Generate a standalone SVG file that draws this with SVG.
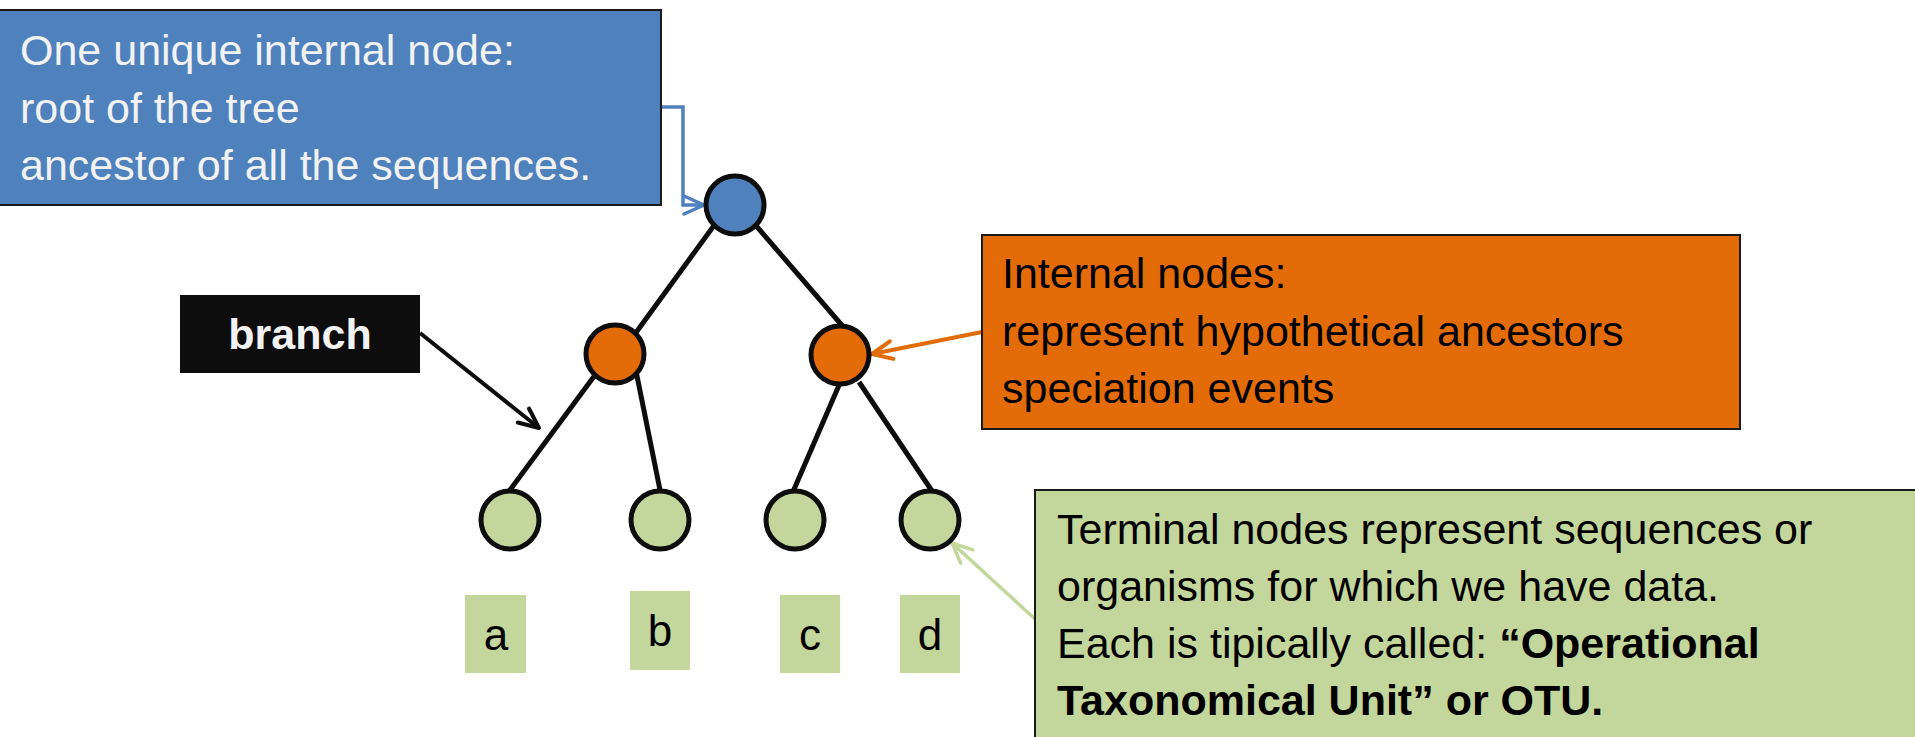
<svg xmlns="http://www.w3.org/2000/svg" width="1915" height="737" viewBox="0 0 1915 737">
<style>
  .txt { font-family: "Liberation Sans", Arial, sans-serif; font-size: 43px; }
  .w { fill: #F2F2F2; }
  .k { fill: #000000; }
  .b { font-weight: bold; }
  .box { stroke: #1A1A1A; stroke-width: 2; }
  .node { stroke: #0D0D0D; stroke-width: 5; }
  .edge { stroke: #0D0D0D; stroke-width: 5; fill: none; }
  .lbl { fill: #C3D69B; }
  .lbltxt { font-family: "Liberation Sans", Arial, sans-serif; font-size: 44px; fill: #000; text-anchor: middle; }
</style>
<defs>
  <marker id="arrBlue" viewBox="-25 -15 30 30" refX="0" refY="0" markerWidth="30" markerHeight="30" markerUnits="userSpaceOnUse" orient="auto">
    <path d="M -20 -9 L 0 0 L -20 9" fill="none" stroke="#4F81BD" stroke-width="3.5" stroke-linecap="round" stroke-linejoin="round"/>
  </marker>
  <marker id="arrOrange" viewBox="-25 -15 30 30" refX="0" refY="0" markerWidth="30" markerHeight="30" markerUnits="userSpaceOnUse" orient="auto">
    <path d="M -20 -9 L 0 0 L -20 9" fill="none" stroke="#E36C09" stroke-width="4" stroke-linecap="round" stroke-linejoin="round"/>
  </marker>
  <marker id="arrBlack" viewBox="-25 -15 30 30" refX="0" refY="0" markerWidth="30" markerHeight="30" markerUnits="userSpaceOnUse" orient="auto">
    <path d="M -20 -9 L 0 0 L -20 9" fill="none" stroke="#0D0D0D" stroke-width="4" stroke-linecap="round" stroke-linejoin="round"/>
  </marker>
  <marker id="arrGreen" viewBox="-25 -15 30 30" refX="0" refY="0" markerWidth="30" markerHeight="30" markerUnits="userSpaceOnUse" orient="auto">
    <path d="M -20 -9 L 0 0 L -20 9" fill="none" stroke="#C3D69B" stroke-width="3.5" stroke-linecap="round" stroke-linejoin="round"/>
  </marker>
</defs>
<rect width="1915" height="737" fill="#FFFFFF"/>

<g id="tree-edges">
  <line class="edge" x1="718" y1="220" x2="632" y2="338"/>
  <line class="edge" x1="752" y1="221" x2="846" y2="330"/>
  <line class="edge" x1="598" y1="371" x2="507" y2="494"/>
  <line class="edge" x1="636" y1="371" x2="661" y2="495"/>
  <line class="edge" x1="843" y1="376" x2="792" y2="494"/>
  <line class="edge" x1="859" y1="382" x2="934" y2="494"/>
</g>

<g id="connectors">
  <path d="M 661 107 H 683 V 205 H 704" fill="none" stroke="#4F81BD" stroke-width="3.5" marker-end="url(#arrBlue)"/>
  <path d="M 982 332 L 872 354" fill="none" stroke="#E36C09" stroke-width="4" marker-end="url(#arrOrange)"/>
  <path d="M 420 333 L 539 428" fill="none" stroke="#0D0D0D" stroke-width="4" marker-end="url(#arrBlack)"/>
  <path d="M 1035 619 L 952 543" fill="none" stroke="#C3D69B" stroke-width="3.5" marker-end="url(#arrGreen)"/>
</g>

<g id="root-node"><circle class="node" cx="735" cy="205" r="29" fill="#4F81BD"/></g>
<g id="internal-left"><circle class="node" cx="615" cy="354" r="29" fill="#E36C09"/></g>
<g id="internal-right"><circle class="node" cx="840" cy="355" r="29" fill="#E36C09"/></g>
<g id="terminal-a"><circle class="node" cx="510" cy="520" r="29" fill="#C3D69B"/></g>
<g id="terminal-b"><circle class="node" cx="660" cy="520" r="29" fill="#C3D69B"/></g>
<g id="terminal-c"><circle class="node" cx="795" cy="520" r="29" fill="#C3D69B"/></g>
<g id="terminal-d"><circle class="node" cx="930" cy="520" r="29" fill="#C3D69B"/></g>

<g id="label-a"><rect class="lbl" x="465" y="595" width="61" height="78"/><text class="lbltxt" x="496" y="650">a</text></g>
<g id="label-b"><rect class="lbl" x="630" y="591" width="60" height="79"/><text class="lbltxt" x="660" y="646">b</text></g>
<g id="label-c"><rect class="lbl" x="780" y="595" width="60" height="78"/><text class="lbltxt" x="810" y="650">c</text></g>
<g id="label-d"><rect class="lbl" x="900" y="595" width="60" height="78"/><text class="lbltxt" x="930" y="650">d</text></g>

<g id="root-callout">
  <rect class="box" x="-2" y="10" width="663" height="195" fill="#4F81BD"/>
  <text class="txt w" x="20" y="65">One unique internal node:</text>
  <text class="txt w" x="20" y="123">root of the tree</text>
  <text class="txt w" x="20" y="180">ancestor of all the sequences.</text>
</g>

<g id="branch-callout">
  <rect x="180" y="295" width="240" height="78" fill="#0D0D0D"/>
  <text class="txt w b" x="300" y="349" text-anchor="middle" font-size="41">branch</text>
</g>

<g id="internal-callout">
  <rect class="box" x="982" y="235" width="758" height="194" fill="#E36C09"/>
  <text class="txt k" x="1002" y="288">Internal nodes:</text>
  <text class="txt k" x="1002" y="346">represent hypothetical ancestors</text>
  <text class="txt k" x="1002" y="403">speciation events</text>
</g>

<g id="terminal-callout">
  <rect class="box" x="1035" y="490" width="900" height="260" fill="#C3D69B"/>
  <text class="txt k" x="1057" y="544">Terminal nodes represent sequences or</text>
  <text class="txt k" x="1057" y="601">organisms for which we have data.</text>
  <text class="txt k" x="1057" y="658">Each is tipically called: <tspan class="b">“Operational</tspan></text>
  <text class="txt k b" x="1057" y="715">Taxonomical Unit” or OTU.</text>
</g>
</svg>
